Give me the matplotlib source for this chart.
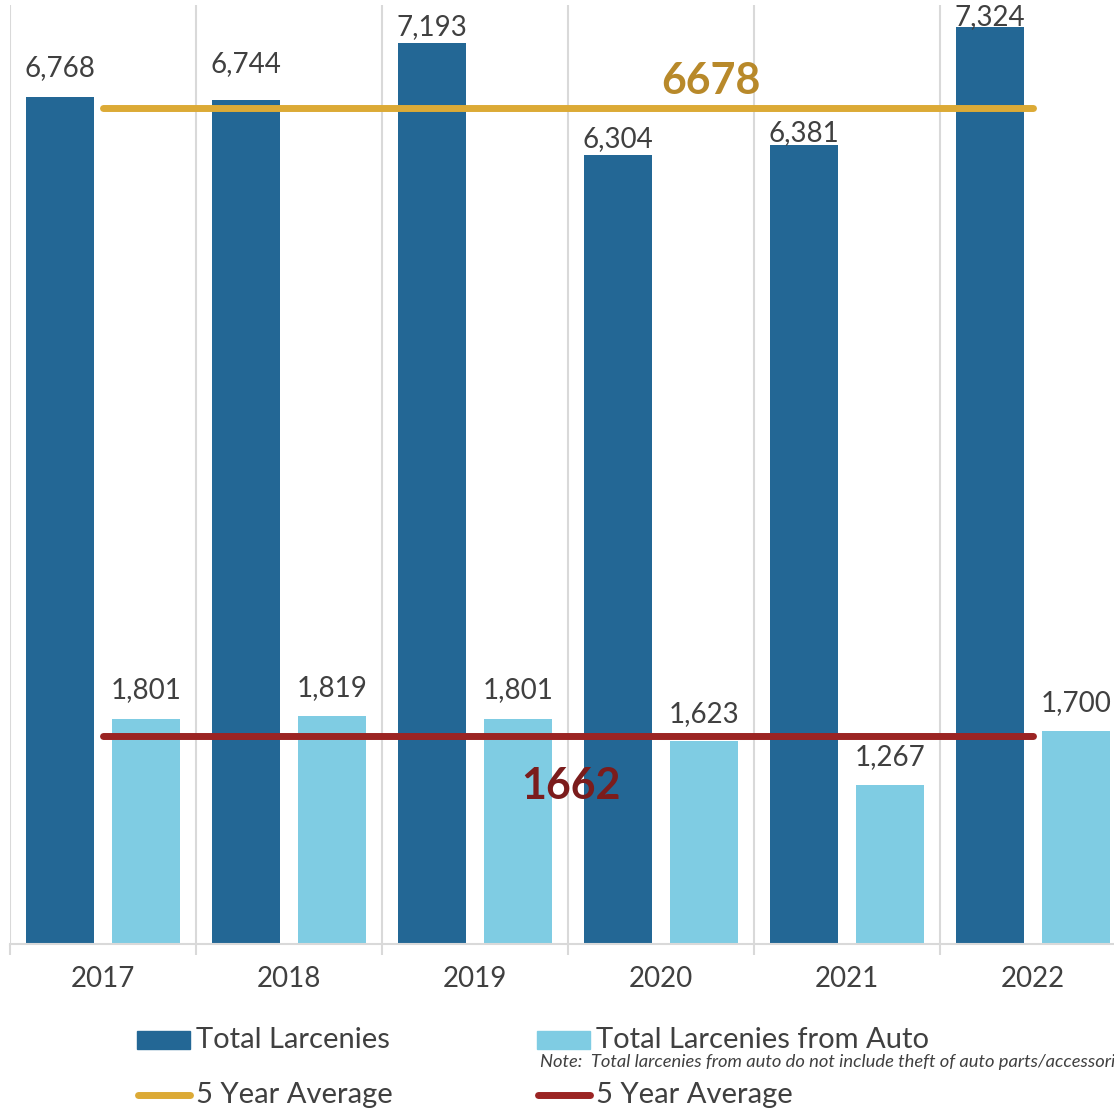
import numpy as np
import matplotlib.pyplot as plt
from matplotlib.patches import Rectangle
from matplotlib.lines import Line2D

# données
years = ['2017', '2018', '2019', '2020', '2021', '2022']
total_larcenies = [6768, 6744, 7193, 6304, 6381, 7324]
larcenies_auto = [1801, 1819, 1801, 1623, 1267, 1700]
avg_total = 6678
avg_auto = 1662

dark = '#236795'
light = '#7fcce3'
gold = '#dcaa36'
gold_txt = '#b8892a'
red = '#9b2423'
red_txt = '#7b1c1c'
grey_txt = '#404040'
grid_c = '#d9d9d9'

plt.rcParams['font.family'] = ['Lato', 'DejaVu Sans']

W, H = 1114, 1111
fig = plt.figure(figsize=(W / 100, H / 100), dpi=100)
ax = fig.add_axes([10 / W, (H - 944) / H, 1116 / W, 939 / H])

x = np.arange(len(years))
bw = 0.366
off = 0.231
b1 = ax.bar(x - off, total_larcenies, bw, color=dark, zorder=2)
b2 = ax.bar(x + off, larcenies_auto, bw, color=light, zorder=2)

# écart (px) entre le haut de la barre et la ligne de base de l'étiquette
gap_dark = [21, 28, 8, 8, 4, 2]
gap_light = [20, 20, 20, 19, 20, 20]
for bars, vals, gaps in ((b1, total_larcenies, gap_dark), (b2, larcenies_auto, gap_light)):
    for r, v, g in zip(bars, vals, gaps):
        ax.annotate(f'{v:,}', (r.get_x() + r.get_width() / 2, v),
                    xytext=(0, g * 0.72), textcoords='offset points',
                    ha='center', va='baseline', fontsize=20, color=grey_txt,
                    zorder=4, annotation_clip=False)

# lignes des moyennes
ax.plot([0, 5], [avg_total, avg_total], color=gold, lw=5, solid_capstyle='round', zorder=3)
ax.plot([0, 5], [avg_auto, avg_auto], color=red, lw=5, solid_capstyle='round', zorder=3)
ax.text(3.27, 6896, str(avg_total), color=gold_txt, fontsize=31, fontweight='bold',
        ha='center', va='center', zorder=4)
ax.text(2.516, 1262, str(avg_auto), color=red_txt, fontsize=31, fontweight='bold',
        ha='center', va='center', zorder=4)

ax.set_xlim(-0.5, 5.5)
ax.set_ylim(0, 7500)
ax.set_yticks([])
ax.set_xticks(x)
ax.set_xticklabels(years, fontsize=20, color=grey_txt)
ax.tick_params(axis='x', which='major', length=0, pad=16)
ax.set_xticks(np.arange(-0.5, 6.0, 1.0), minor=True)
ax.tick_params(axis='x', which='minor', length=8, width=1.5, color=grid_c)
ax.grid(axis='x', which='minor', color=grid_c, lw=1.5, zorder=0)
for s in ('top', 'right', 'left'):
    ax.spines[s].set_visible(False)
ax.spines['bottom'].set_color(grid_c)
ax.spines['bottom'].set_linewidth(1.5)

# légende manuelle
def fx(px):
    return px / W

def fy(py):
    return 1 - py / H

fig.add_artist(Rectangle((fx(137), fy(1049)), fx(53), 18 / H, color=dark, transform=fig.transFigure))
fig.text(fx(196), fy(1040), 'Total Larcenies', fontsize=21, color=grey_txt, va='center')
fig.add_artist(Rectangle((fx(537), fy(1049)), fx(53), 18 / H, color=light, transform=fig.transFigure))
fig.text(fx(596), fy(1040), 'Total Larcenies from Auto', fontsize=21, color=grey_txt, va='center')
fig.text(fx(540), fy(1062), 'Note:  Total larcenies from auto do not include theft of auto parts/accessories',
         fontsize=13.2, style='italic', color=grey_txt, va='center')
fig.add_artist(Line2D([fx(138), fx(190)], [fy(1095), fy(1095)], color=gold, lw=5,
                      solid_capstyle='round', transform=fig.transFigure))
fig.text(fx(196), fy(1095), '5 Year Average', fontsize=21, color=grey_txt, va='center')
fig.add_artist(Line2D([fx(538), fx(590)], [fy(1095), fy(1095)], color=red, lw=5,
                      solid_capstyle='round', transform=fig.transFigure))
fig.text(fx(596), fy(1095), '5 Year Average', fontsize=21, color=grey_txt, va='center')

fig.savefig('out.png', dpi=100)
